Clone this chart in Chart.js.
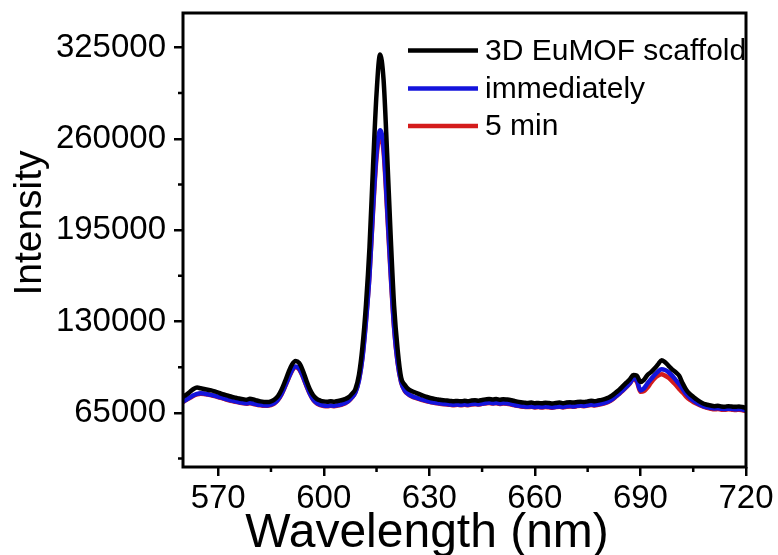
<!DOCTYPE html>
<html>
<head>
<meta charset="utf-8">
<title>Emission spectra</title>
<script src="https://cdn.jsdelivr.net/npm/chart.js@4"></script>
<style>
  html, body { margin: 0; padding: 0; background: #fff; }
</style>
</head>
<body>
<canvas id="spectrum" width="778" height="555"></canvas>
<script>
const FONT = '"Liberation Sans", Arial, sans-serif';

// wavelength grid, nm
const wavelengths = [
  560, 561, 562, 563, 564, 565, 566, 567, 568, 569, 570, 571, 572, 573, 574, 575, 576, 577, 578, 579,
  580, 581, 582, 583, 584, 585, 586, 587, 588, 589, 590, 591, 592, 593, 594, 595, 596, 597, 598, 599,
  600, 601, 602, 603, 604, 605, 606, 607, 608, 609, 610, 611, 612, 613, 614, 615, 616, 617, 618, 619,
  620, 621, 622, 623, 624, 625, 626, 627, 628, 629, 630, 631, 632, 633, 634, 635, 636, 637, 638, 639,
  640, 641, 642, 643, 644, 645, 646, 647, 648, 649, 650, 651, 652, 653, 654, 655, 656, 657, 658, 659,
  660, 661, 662, 663, 664, 665, 666, 667, 668, 669, 670, 671, 672, 673, 674, 675, 676, 677, 678, 679,
  680, 681, 682, 683, 684, 685, 686, 687, 688, 689, 690, 691, 692, 693, 694, 695, 696, 697, 698, 699,
  700, 701, 702, 703, 704, 705, 706, 707, 708, 709, 710, 711, 712, 713, 714, 715, 716, 717, 718, 719,
  720
];

// 3D EuMOF scaffold
const scaffold = [
  76500, 78000, 80000, 82000, 83000, 82500, 82000, 81500, 81000, 80300, 79500, 78500, 77800, 77000, 76300, 75800, 75200, 74800, 74400, 75000,
  74600, 73800, 73200, 72800, 72700, 73200, 74500, 77000, 81500, 87500, 94000, 99500, 102000, 100500, 95500, 88500, 82000, 77500, 75000, 73800,
  73200, 73000, 73300, 73000, 73500, 74000, 74800, 76000, 78500, 82000, 92000, 112000, 142000, 183000, 240000, 292000, 320000, 302000, 250000, 192000,
  141000, 110000, 90000, 85000, 82000, 80500, 79500, 78500, 77500, 76500, 75800, 75200, 74800, 74300, 74000, 73800, 73500, 73300, 73500, 73200,
  73600, 73300, 73800, 74000, 73700, 74200, 74600, 74900, 74500, 74800, 74300, 74700, 74500, 74200, 73600, 73000, 72600, 72300, 72100, 72300,
  71900, 72100, 71800, 72200, 72000, 71700, 72100, 72300, 71900, 72400, 72600, 72300, 72800, 73000, 72700, 73200, 73600, 73300, 73800, 74300,
  75000, 76000, 77500, 79500, 81500, 84000, 86500, 89000, 92000, 91500, 87000, 88500, 92000, 94000, 96500, 99500, 102500, 101000, 98500, 96000,
  94000, 91500, 86000, 81500, 78500, 76500, 74500, 72800, 71500, 70800, 70200, 69800, 70000, 69600, 69400, 69800, 69500, 69300, 69600, 69200,
  68500
];

// immediately
const immediately = [
  73000, 74500, 76000, 77500, 78500, 79000, 78800, 78300, 77800, 77200, 76500, 75800, 75000, 74300, 73700, 73200, 72600, 72200, 71800, 72200,
  71600, 71000, 70700, 70400, 70300, 70800, 72000, 74500, 78500, 84000, 90000, 95500, 98000, 96500, 91500, 85000, 79000, 74500, 72000, 70800,
  70200, 70000, 70300, 70000, 70500, 71000, 72000, 73500, 76000, 79500, 88000, 104000, 130000, 163000, 210000, 250000, 266000, 254000, 212000, 166000,
  126000, 101000, 87000, 81000, 78500, 77000, 76000, 75200, 74400, 73700, 73100, 72600, 72200, 71800, 71500, 71300, 71000, 70800, 71000, 70700,
  71100, 70800, 71300, 71500, 71200, 71700, 72000, 72300, 71900, 72200, 71700, 72000, 71800, 71400, 70800, 70300, 69900, 69600, 69400, 69600,
  69200, 69400, 69100, 69500, 69300, 69000, 69400, 69600, 69200, 69700, 69900, 69600, 70100, 70300, 70000, 70500, 70900, 70600, 71100, 71600,
  72300, 73300, 74800, 76800, 78800, 81200, 83600, 86200, 89500, 88000, 81000, 82500, 86000, 89000, 92000, 94500, 96000, 95500, 94000, 91500,
  88500, 85500, 82000, 78500, 75800, 73800, 72200, 70800, 69700, 69000, 68500, 68100, 68300, 67900, 67700, 68000, 67800, 67500, 67800, 67400,
  66800
];

// 5 min
const fiveMin = [
  72800, 74300, 75700, 77200, 78200, 78700, 78500, 78000, 77500, 76900, 76200, 75500, 74700, 74000, 73400, 72900, 72300, 71900, 71500, 71900,
  71300, 70700, 70400, 70100, 70000, 70500, 71700, 74200, 78200, 83700, 89600, 95000, 97500, 96000, 91000, 84600, 78700, 74200, 71700, 70500,
  69900, 69700, 70000, 69700, 70200, 70700, 71700, 73200, 75800, 79800, 88500, 105000, 131000, 163000, 208000, 247000, 262000, 251000, 209000, 164000,
  125000, 100500, 86700, 80700, 78200, 76700, 75700, 74900, 74100, 73400, 72800, 72300, 71900, 71500, 71200, 71000, 70700, 70500, 70700, 70400,
  70800, 70500, 71000, 71200, 70900, 71400, 71700, 72000, 71600, 71900, 71400, 71700, 71500, 71100, 70500, 70000, 69600, 69300, 69100, 69300,
  68900, 69100, 68800, 69200, 69000, 68700, 69100, 69300, 68900, 69400, 69600, 69300, 69800, 70000, 69700, 70200, 70600, 70300, 70800, 71300,
  72000, 73000, 74500, 76500, 78500, 80900, 83300, 85900, 89000, 87000, 80000, 80500, 83000, 86500, 89500, 91500, 92500, 91500, 90000, 87500,
  85000, 82000, 79500, 76500, 74300, 72800, 71500, 70300, 69300, 68600, 67900, 67500, 67700, 67300, 67200, 67500, 67300, 67000, 67300, 66900,
  66300
];

const seriesNames = ['3D EuMOF scaffold', 'immediately', '5 min'];
const seriesColors = ['#000000', '#1414dc', '#d41c1c'];

const xTicks = [570, 600, 630, 660, 690, 720];
const xMinorTicks = [585, 615, 645, 675, 705];
const yTicks = [65000, 130000, 195000, 260000, 325000];
const yMinorTicks = [32500, 97500, 162500, 227500, 292500];

const xTitle = 'Wavelength (nm)';
const yTitle = 'Intensity';

// frame, minor ticks, axis titles and the legend box inside the plot
const decorations = {
  id: 'decorations',
  afterDraw(chart) {
    const { ctx, chartArea: a, scales } = chart;
    ctx.save();

    ctx.strokeStyle = '#000';
    ctx.lineWidth = 3;
    ctx.strokeRect(a.left, a.top, a.right - a.left, a.bottom - a.top);

    ctx.lineWidth = 2.5;
    ctx.beginPath();
    xMinorTicks.forEach(v => {
      const px = scales.x.getPixelForValue(v);
      ctx.moveTo(px, a.bottom);
      ctx.lineTo(px, a.bottom + 5);
    });
    yMinorTicks.forEach(v => {
      const py = scales.y.getPixelForValue(v);
      ctx.moveTo(a.left, py);
      ctx.lineTo(a.left - 5, py);
    });
    ctx.stroke();

    ctx.fillStyle = '#000';
    ctx.textAlign = 'center';
    ctx.textBaseline = 'alphabetic';
    ctx.font = '48px ' + FONT;
    ctx.fillText(xTitle, 427, 547);

    ctx.save();
    ctx.translate(41, 223);
    ctx.rotate(-Math.PI / 2);
    ctx.font = '39px ' + FONT;
    ctx.fillText(yTitle, 0, 0);
    ctx.restore();

    // legend
    const rows = [50.5, 88.5, 126];
    ctx.font = '30px ' + FONT;
    ctx.textAlign = 'left';
    ctx.textBaseline = 'middle';
    chart.data.datasets.forEach((ds, i) => {
      ctx.strokeStyle = ds.borderColor;
      ctx.lineWidth = 4.5;
      ctx.beginPath();
      ctx.moveTo(408, rows[i]);
      ctx.lineTo(478, rows[i]);
      ctx.stroke();
      ctx.fillStyle = '#000';
      ctx.fillText(ds.label, 485, rows[i] + 1);
    });

    ctx.restore();
  }
};

const toPoints = values => values.map((v, i) => ({ x: wavelengths[i], y: v }));

new Chart(document.getElementById('spectrum'), {
  type: 'line',
  data: {
    datasets: [
      { label: seriesNames[0], data: toPoints(scaffold), borderColor: seriesColors[0] },
      { label: seriesNames[1], data: toPoints(immediately), borderColor: seriesColors[1] },
      { label: seriesNames[2], data: toPoints(fiveMin), borderColor: seriesColors[2] },
    ]
  },
  options: {
    responsive: false,
    animation: false,
    devicePixelRatio: 1,
    layout: { padding: { top: 13, right: 32, left: 0, bottom: 0 } },
    elements: {
      point: { radius: 0 },
      line: { borderWidth: 4.5, cubicInterpolationMode: 'monotone', borderJoinStyle: 'round' }
    },
    plugins: {
      legend: { display: false },
      tooltip: { enabled: false }
    },
    scales: {
      x: {
        type: 'linear',
        min: 560,
        max: 720,
        afterBuildTicks: scale => { scale.ticks = xTicks.map(v => ({ value: v })); },
        afterFit: scale => { scale.height = 88; },
        ticks: {
          autoSkip: false,
          maxRotation: 0,
          padding: 3,
          color: '#000',
          font: { family: FONT, size: 33 },
          callback: v => String(v)
        },
        grid: { drawOnChartArea: false, color: '#000', lineWidth: 2.5, tickLength: 9 },
        border: { display: false }
      },
      y: {
        type: 'linear',
        min: 26500,
        max: 349500,
        afterBuildTicks: scale => { scale.ticks = yTicks.map(v => ({ value: v })); },
        afterFit: scale => {
          scale.width = 183;
          scale.paddingTop = 0;
          scale.paddingBottom = 0;
        },
        ticks: {
          autoSkip: false,
          padding: 8,
          color: '#000',
          font: { family: FONT, size: 33, lineHeight: 0.8 },
          callback: v => String(v)
        },
        grid: { drawOnChartArea: false, color: '#000', lineWidth: 2.5, tickLength: 9 },
        border: { display: false }
      }
    }
  },
  plugins: [decorations]
});
</script>
</body>
</html>
